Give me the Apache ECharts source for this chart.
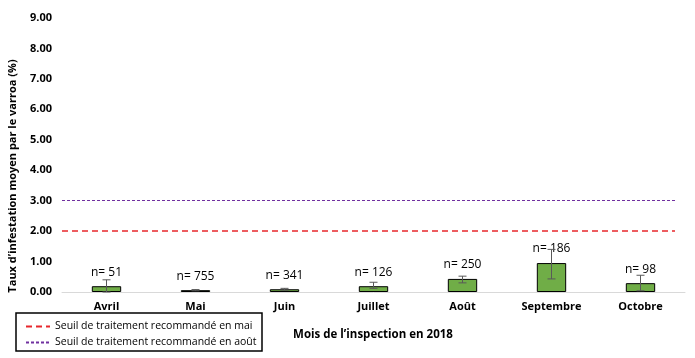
<!DOCTYPE html>
<html><head><meta charset="utf-8">
<script src="https://cdn.jsdelivr.net/npm/echarts@6/dist/echarts.min.js"></script>
<style>html,body{margin:0;padding:0;background:#fff}#c{width:695px;height:358px}</style>
</head><body><div id="c"></div>
<script>
const categories = ['Avril','Mai','Juin','Juillet','Août','Septembre','Octobre'];
const meanValues = [0.19, 0.06, 0.09, 0.19, 0.43, 0.95, 0.29];
const errLow = [0.00, 0.04, 0.06, 0.12, 0.30, 0.43, 0.04];
const errHigh = [0.40, 0.08, 0.12, 0.32, 0.52, 1.40, 0.55];
const sampleSizes = [51, 755, 341, 126, 250, 186, 98];
const thresholdMai = 2.0;
const thresholdAout = 3.0;
const yTicks = [0,1,2,3,4,5,6,7,8,9];
const legendNames = ['Seuil de traitement recommandé en mai','Seuil de traitement recommandé en août'];
const xTitle = 'Mois de l\u2019inspection en 2018';
const yTitle = 'Taux d\u2019infestation moyen par le varroa (%)';

const FONT = 'Open Sans';
const chart = echarts.init(document.getElementById('c'), null, {renderer:'canvas'});
chart.setOption({
  animation:false,
  textStyle:{fontFamily:FONT},
  grid:{left:62, right:10, top:18, bottom:66},
  title:{text:xTitle, left:368, top:324, textAlign:'center',
    textStyle:{fontFamily:FONT, fontSize:11.5, fontWeight:'bold', color:'#000'}},
  legend:{orient:'vertical', left:20, top:316, itemWidth:24, itemHeight:8, itemGap:5,
    data:legendNames, itemStyle:{opacity:0},
    textStyle:{fontFamily:FONT, fontSize:10.5, color:'#000'}},
  graphic:[
    {type:'rect', shape:{x:16, y:313, width:246, height:38},
      style:{fill:'none', stroke:'#000', lineWidth:1.5}},
    {type:'text', x:13, y:176, rotation:Math.PI/2,
      style:{text:yTitle, fontFamily:FONT, fontSize:11, fontWeight:'bold', fill:'#000',
        textAlign:'center', textVerticalAlign:'middle'}}
  ],
  xAxis:{type:'category', data:categories,
    axisLine:{lineStyle:{color:'#d9d9d9', width:1}},
    axisTick:{show:false},
    axisLabel:{fontFamily:FONT, fontSize:11, fontWeight:'bold', color:'#000', margin:9}},
  yAxis:{type:'value', min:0, max:9, interval:1,
    splitLine:{show:false}, axisLine:{show:false}, axisTick:{show:false},
    axisLabel:{fontFamily:FONT, fontSize:11, fontWeight:'bold', color:'#000', margin:10,
      formatter:v=>v.toFixed(2)}},
  series:[
    {type:'bar', name:'moyenne', data:meanValues, barWidth:'33%',
      itemStyle:{color:'#70AD47', borderColor:'#000', borderWidth:1},
      label:{show:true, position:'top', distance:8, fontFamily:FONT, fontSize:12, color:'#000',
        formatter:p=>'n= '+sampleSizes[p.dataIndex]}, z:2},
    {type:'custom', name:'err',
      data:categories.map((c,i)=>[i, errLow[i], errHigh[i]]),
      renderItem:function(params, api){
        const x = api.value(0);
        const lo = api.coord([x, api.value(1)]);
        const hi = api.coord([x, api.value(2)]);
        const w = 4;
        const st = {stroke:'#595959', lineWidth:1};
        return {type:'group', children:[
          {type:'line', shape:{x1:lo[0], y1:lo[1], x2:hi[0], y2:hi[1]}, style:st},
          {type:'line', shape:{x1:hi[0]-w, y1:hi[1], x2:hi[0]+w, y2:hi[1]}, style:st},
          {type:'line', shape:{x1:lo[0]-w, y1:lo[1], x2:lo[0]+w, y2:lo[1]}, style:st}
        ]};
      }, z:3},
    {type:'line', name:legendNames[0], data:[], symbol:'none',
      lineStyle:{color:'#E8272C', width:1.5, type:[6,4]},
      itemStyle:{color:'#E8272C'},
      markLine:{silent:true, symbol:'none', label:{show:false},
        lineStyle:{color:'#E8272C', width:1.5, type:[6,4]},
        data:[[{coord:[0, thresholdMai], x:62},{coord:[0, thresholdMai], x:675}]]}},
    {type:'line', name:legendNames[1], data:[], symbol:'none',
      lineStyle:{color:'#7030A0', width:1, type:[3,2]},
      itemStyle:{color:'#7030A0'},
      markLine:{silent:true, symbol:'none', label:{show:false},
        lineStyle:{color:'#7030A0', width:1, type:[3,2]},
        data:[[{coord:[0, thresholdAout], x:62},{coord:[0, thresholdAout], x:675}]]}}
  ]
});
</script></body></html>
